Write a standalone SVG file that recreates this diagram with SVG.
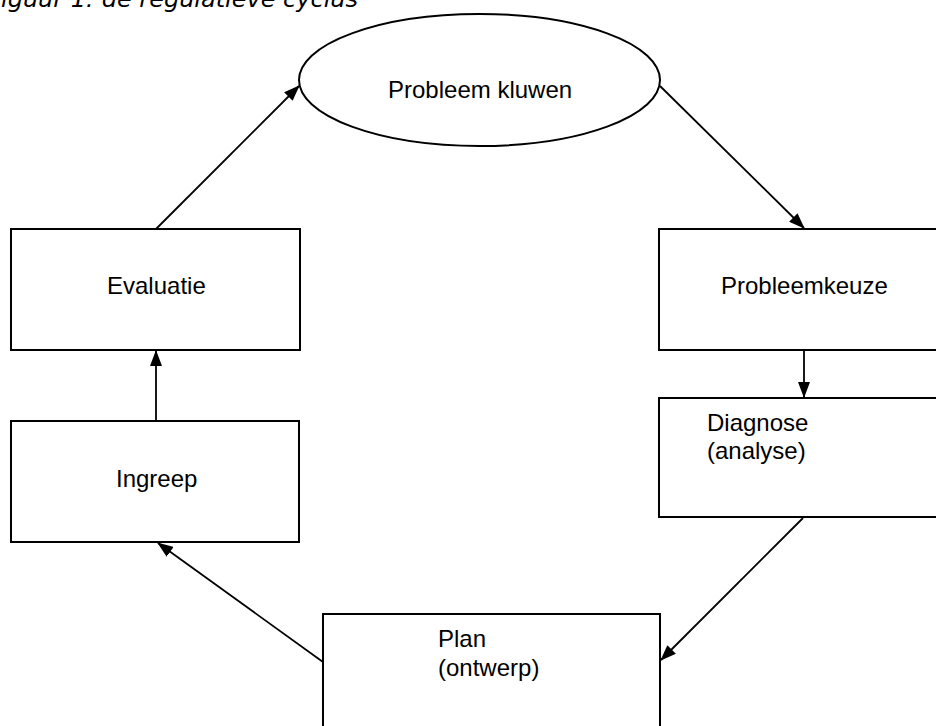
<svg xmlns="http://www.w3.org/2000/svg" width="936" height="726" viewBox="0 0 936 726">
<style>
.box{fill:#fff;stroke:#000;stroke-width:2}
.lbl{font-family:"Liberation Sans",Arial,sans-serif;font-size:24px;fill:#000}
.title{font-family:"DejaVu Sans",Verdana,sans-serif;font-style:italic;font-size:23px;fill:#000}
.con{stroke:#000;stroke-width:1.8;fill:none;marker-end:url(#ah)}
</style>
<defs>
<marker id="ah" markerUnits="userSpaceOnUse" markerWidth="16" markerHeight="12" refX="15" refY="6" orient="auto">
<path d="M0,0 L16,6 L0,12 z" fill="#000"/>
</marker>
</defs>
<rect width="936" height="726" fill="#fff"/>
<text class="title" x="1" y="7" textLength="357" lengthAdjust="spacingAndGlyphs">iguur 1: de regulatieve cyclus</text>
<g id="connectors">
<line class="con" x1="156" y1="229" x2="299" y2="86"/>
<line class="con" x1="660" y1="86" x2="804" y2="228"/>
<line class="con" x1="804" y1="350" x2="804" y2="397"/>
<line class="con" x1="803" y1="518" x2="661" y2="660"/>
<line class="con" x1="323" y1="662" x2="158" y2="543"/>
<line class="con" x1="156" y1="421" x2="156" y2="351"/>
</g>
<g id="probleem-kluwen">
<ellipse cx="479.5" cy="80" rx="180.5" ry="66" fill="#fff" stroke="#000" stroke-width="2"/>
<text class="lbl" x="388" y="98">Probleem kluwen</text>
</g>
<g id="probleemkeuze">
<rect class="box" x="659" y="229" width="300" height="121"/>
<text class="lbl" x="721" y="294">Probleemkeuze</text>
</g>
<g id="diagnose">
<rect class="box" x="659" y="398" width="300" height="119"/>
<text class="lbl" x="707" y="431">Diagnose</text>
<text class="lbl" x="707" y="459">(analyse)</text>
</g>
<g id="plan">
<rect class="box" x="323" y="614" width="337" height="130"/>
<text class="lbl" x="438" y="647">Plan</text>
<text class="lbl" x="438" y="676">(ontwerp)</text>
</g>
<g id="ingreep">
<rect class="box" x="11" y="421" width="288" height="121"/>
<text class="lbl" x="116" y="487">Ingreep</text>
</g>
<g id="evaluatie">
<rect class="box" x="11" y="229" width="289" height="121"/>
<text class="lbl" x="107" y="294">Evaluatie</text>
</g>
</svg>
